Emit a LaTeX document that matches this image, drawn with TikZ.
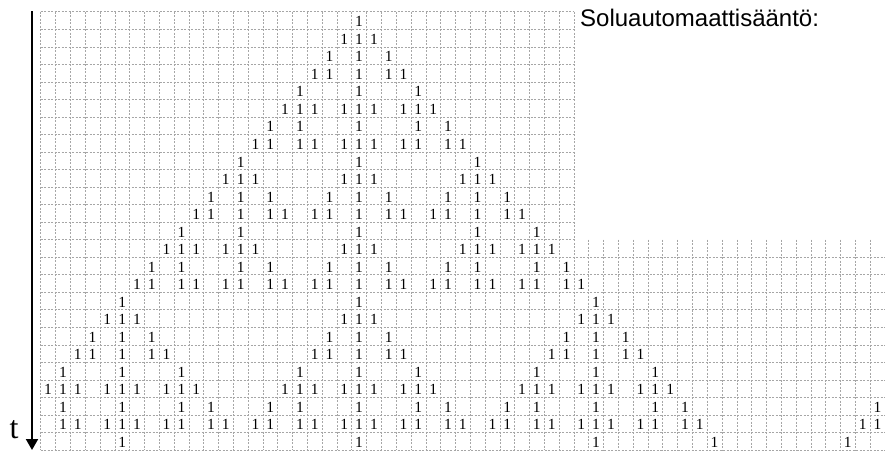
\documentclass[tikz,border=0pt]{standalone}
\usepackage{fontspec}
\setmainfont{Liberation Serif}
\newfontfamily\headfont{Liberation Sans}
\usetikzlibrary{arrows.meta}

\begin{document}
\begin{tikzpicture}[x=1pt, y=-1pt,
    gridline/.style={draw=gray!70, line width=0.5pt, dash pattern=on 2pt off 1.5pt},
    cell/.style={inner sep=0pt, anchor=base, font=\fontsize{15.5}{15.5}\selectfont},
    axis/.style={line width=2pt, -{Triangle[width=12pt, length=11pt]}}]

  \useasboundingbox (0,0) rectangle (885,450);

  % cell grid, 57 cells per row; upper right part kept free for the title
  \begin{scope}[shift={(40.7,11.7)}, x=14.81pt, y=-17.53pt]
    \foreach \i in {0,...,13} \draw[gridline] (0,\i) -- (36,\i);
    \foreach \i in {14,...,25} \draw[gridline] (0,\i) -- (57,\i);
    \foreach \j in {0,...,36} \draw[gridline] (\j,0) -- (\j,25);
    \foreach \j in {37,...,57} \draw[gridline] (\j,13) -- (\j,25);

    % live cells, row by row
    \foreach \r/\cols in {0/{21}, 1/{20,21,22}, 2/{19,21,23}, 3/{18,19,21,23,24},
        4/{17,21,25}, 5/{16,17,18,20,21,22,24,25,26}, 6/{15,17,21,25,27},
        7/{14,15,17,18,20,21,22,24,25,27,28}, 8/{13,21,29},
        9/{12,13,14,20,21,22,28,29,30}, 10/{11,13,15,19,21,23,27,29,31},
        11/{10,11,13,15,16,18,19,21,23,24,26,27,29,31,32}, 12/{9,13,21,29,33},
        13/{8,9,10,12,13,14,20,21,22,28,29,30,32,33,34},
        14/{7,9,13,15,19,21,23,27,29,33,35},
        15/{6,7,9,10,12,13,15,16,18,19,21,23,24,26,27,29,30,32,33,35,36},
        16/{5,21,37}, 17/{4,5,6,20,21,22,36,37,38}, 18/{3,5,7,19,21,23,35,37,39},
        19/{2,3,5,7,8,18,19,21,23,24,34,35,37,39,40},
        20/{1,5,9,17,21,25,33,37,41},
        21/{0,1,2,4,5,6,8,9,10,16,17,18,20,21,22,24,25,26,32,33,34,36,37,38,40,41,42},
        22/{1,5,9,11,15,17,21,25,27,31,33,37,41,43,56},
        23/{1,2,4,5,6,8,9,11,12,14,15,17,18,20,21,22,24,25,27,28,30,31,33,34,36,37,38,40,41,43,44,55,56},
        24/{5,21,37,45,54}} {
      \foreach \c in \cols
        \node[cell] (c-\r-\c) at (\c+0.5,\r+0.86) {1};
    }
  \end{scope}

  % time axis
  \coordinate (t-top) at (32,11);
  \coordinate (t-end) at (32,450);
  \draw[axis] (t-top) -- (t-end);
  \node[inner sep=0pt, anchor=base, font=\fontsize{32}{32}\selectfont] (t-label) at (14,438) {t};

  \node[inner sep=0pt, anchor=base west, font=\headfont\fontsize{24}{24}\selectfont] (rule-title) at (580,26.7) {Soluautomaattisääntö:};
\end{tikzpicture}
\end{document}
